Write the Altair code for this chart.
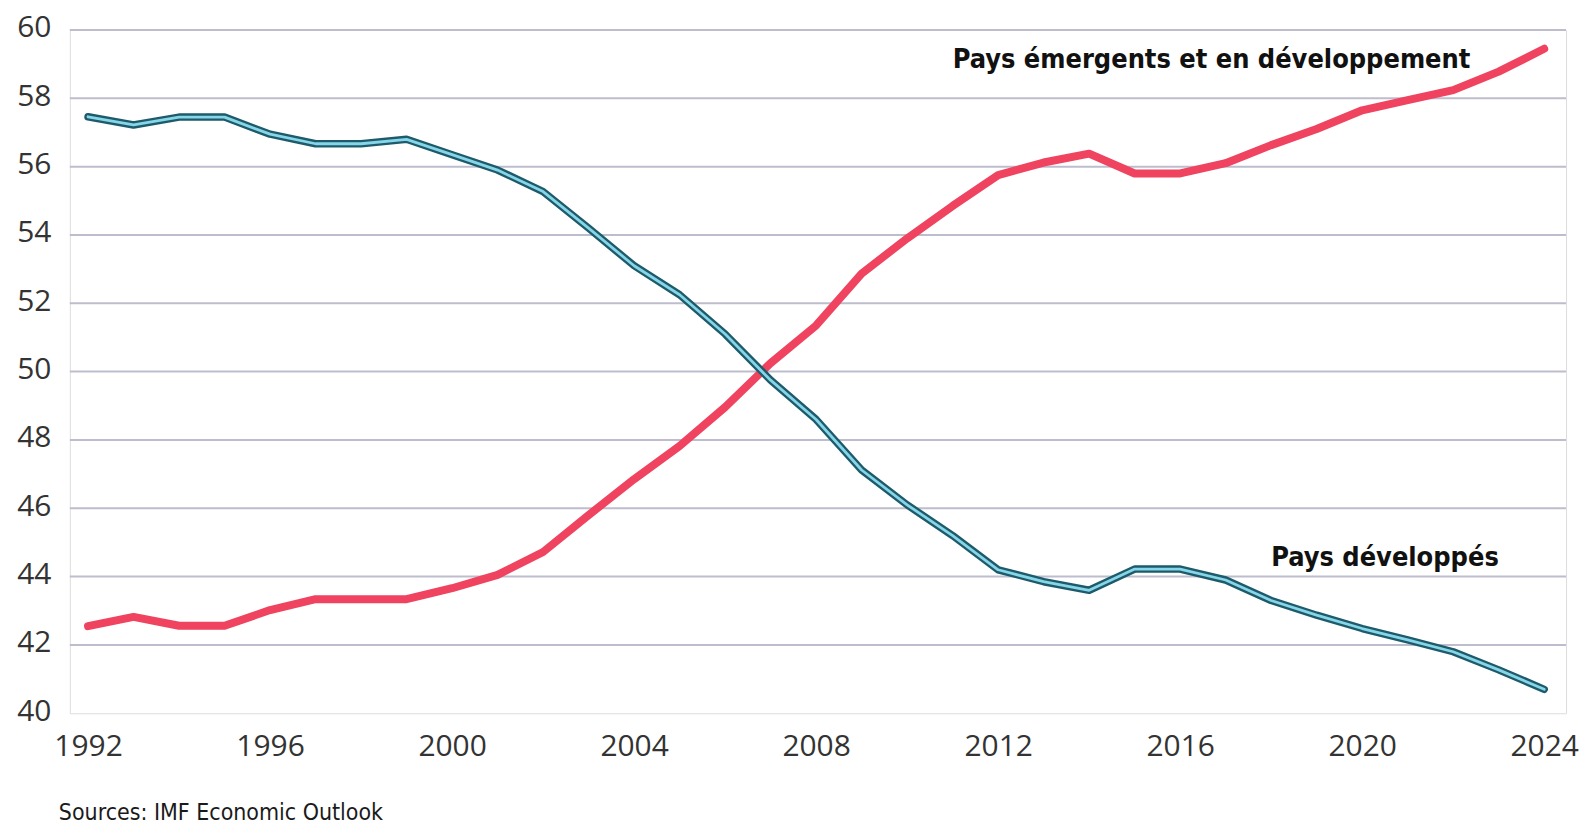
import altair as alt
import pandas as pd

years = list(range(1992, 2025))
developpes = [57.46, 57.22, 57.45, 57.45, 56.95, 56.67, 56.67, 56.8, 56.35, 55.9,
              55.27, 54.2, 53.1, 52.25, 51.1, 49.75, 48.6, 47.12, 46.1, 45.2,
              44.2, 43.85, 43.6, 44.22, 44.22, 43.9, 43.3, 42.87, 42.48, 42.15,
              41.8, 41.27, 40.7]
emergents = [42.55, 42.82, 42.56, 42.56, 43.02, 43.34, 43.34, 43.34, 43.66, 44.05,
             44.72, 45.8, 46.85, 47.82, 48.96, 50.25, 51.35, 52.87, 53.9, 54.85,
             55.75, 56.12, 56.38, 55.8, 55.8, 56.1, 56.63, 57.1, 57.65, 57.95,
             58.24, 58.78, 59.45]

x_ticks = [1992, 1996, 2000, 2004, 2008, 2012, 2016, 2020, 2024]
y_ticks = [40, 42, 44, 46, 48, 50, 52, 54, 56, 58, 60]
grid_values = [42, 44, 46, 48, 50, 52, 54, 56, 58, 60]

label_text = ["Pays émergents et en développement", "Pays développés"]
label_x = [2011.0, 2018.0]
label_y = [58.9, 44.32]

source = "Sources: IMF Economic Outlook"

df = pd.DataFrame({"annee": years, "developpes": developpes, "emergents": emergents})
grid_df = pd.DataFrame({"val": grid_values})
lab_df = pd.DataFrame({"annee": label_x, "val": label_y, "txt": label_text})

AXIS_FONT = "Open Sans"
LABEL_FONT = "DejaVu Sans Condensed"

x_scale = alt.Scale(domain=[1991.6, 2024.48], nice=False, zero=False)
y_scale = alt.Scale(domain=[40, 60], nice=False, zero=False)

x_axis = alt.Axis(values=x_ticks, format="d", title=None, domain=False, ticks=False,
                  grid=False, labelFontSize=30, labelPadding=18, labelColor="#333333",
                  labelFont=AXIS_FONT, labelFlush=False)
y_axis = alt.Axis(values=y_ticks, format="d", title=None, domain=False, ticks=False,
                  grid=False, labelFontSize=30, labelPadding=19, labelColor="#333333",
                  labelFont=AXIS_FONT, labelOffset=-2, labelFlush=False)


def X(field):
    return alt.X(f"{field}:Q", scale=x_scale, axis=x_axis)


def Y(field):
    return alt.Y(f"{field}:Q", scale=y_scale, axis=y_axis)


grid = alt.Chart(grid_df).mark_rule(color="#bebdce", strokeWidth=2).encode(y=Y("val"))

red = alt.Chart(df).mark_line(color="#ef4360", strokeWidth=8, strokeCap="round",
                              strokeJoin="round").encode(x=X("annee"), y=Y("emergents"))
blue_out = alt.Chart(df).mark_line(color="#1d5b6c", strokeWidth=7.5, strokeCap="round",
                                   strokeJoin="round").encode(x=X("annee"), y=Y("developpes"))
blue_in = alt.Chart(df).mark_line(color="#86d6e8", strokeWidth=2.8, strokeCap="round",
                                  strokeJoin="round").encode(x=X("annee"), y=Y("developpes"))

labels = alt.Chart(lab_df).mark_text(align="left", baseline="alphabetic", font=LABEL_FONT,
                                     fontSize=27, fontWeight="bold", color="#111111").encode(
    x=X("annee"), y=Y("val"), text="txt:N")

chart = alt.layer(grid, red, blue_out, blue_in, labels).properties(
    width=1500,
    height=685,
    autosize=alt.AutoSizeParams(type="none"),
    padding={"left": 62, "top": 21, "right": 16, "bottom": 112},
    title=alt.TitleParams(source, orient="bottom", anchor="start", frame="group",
                          dx=-11, offset=41, fontSize=23, font=LABEL_FONT,
                          fontWeight="normal", color="#1a1a1a"),
).configure_view(fill="#eeeeee", strokeWidth=0).configure(background="white")

chart.save("out.html", embed_options={"renderer": "svg", "actions": False})
